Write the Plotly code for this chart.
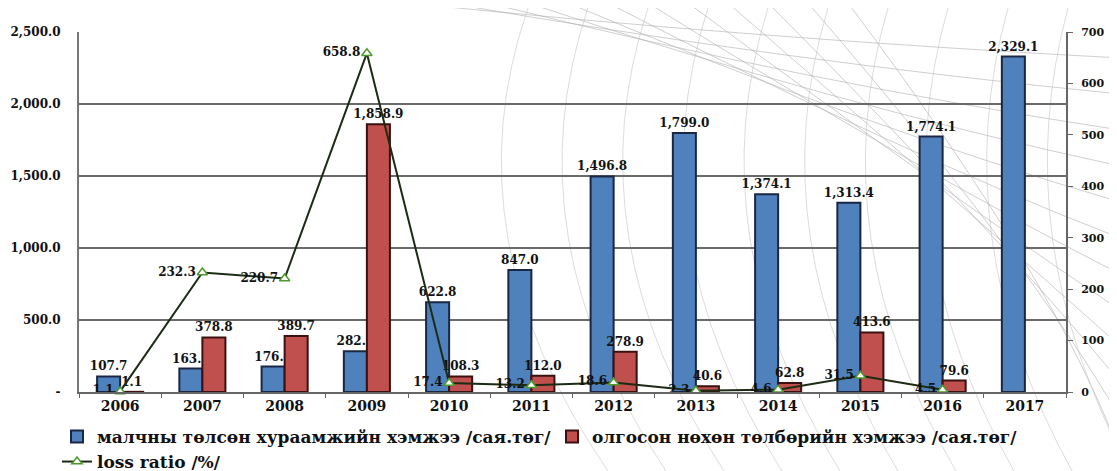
import plotly.graph_objects as go

years = ["2006", "2007", "2008", "2009", "2010", "2011", "2012", "2013", "2014", "2015", "2016", "2017"]
premium = [107.7, 163.1, 176.6, 282.2, 622.8, 847.0, 1496.8, 1799.0, 1374.1, 1313.4, 1774.1, 2329.1]
compensation = [1.1, 378.8, 389.7, 1858.9, 108.3, 112.0, 278.9, 40.6, 62.8, 413.6, 79.6, None]
loss_ratio = [1.1, 232.3, 220.7, 658.8, 17.4, 13.2, 18.6, 2.3, 4.6, 31.5, 4.5, None]

left_ticks = [0, 500, 1000, 1500, 2000, 2500]
left_ticktext = ["-", "500.0", "1,000.0", "1,500.0", "2,000.0", "2,500.0"]
right_ticks = [0, 100, 200, 300, 400, 500, 600, 700]

name_premium = "малчны төлсөн хураамжийн хэмжээ /сая.төг/"
name_comp = "олгосон нөхөн төлбөрийн хэмжээ /сая.төг/"
name_loss = "loss ratio /%/"

FONT = "DejaVu Serif"
# the page body adds an 8px offset, so the figure is 8px smaller than the window
W, H = 1109, 463
L, R, T, B = 71, 51, 24, 79
PW, PH = W - L - R, H - T - B


def px(x, y):
    """figure-pixel -> paper coordinates (decoration only)"""
    return (x - L) / PW, (H - B - y) / PH


fig = go.Figure()
fig.add_trace(go.Bar(
    x=years, y=premium, name=name_premium,
    marker=dict(color="#4F81BD", line=dict(color="#1A2744", width=2)),
    texttemplate="%{y:,.1f}", textposition="outside", constraintext="none",
    textfont=dict(family=FONT, size=12, color="#111", weight="bold"),
    cliponaxis=False, legend="legend", showlegend=True,
))
fig.add_trace(go.Bar(
    x=years, y=compensation, name=name_comp,
    marker=dict(color="#C0504D", line=dict(color="#3A1010", width=2)),
    texttemplate="%{y:,.1f}", textposition="outside", constraintext="none",
    textfont=dict(family=FONT, size=12, color="#111", weight="bold"),
    cliponaxis=False, legend="legend3", showlegend=True,
))
fig.add_trace(go.Scatter(
    x=years, y=loss_ratio, name=name_loss, yaxis="y2",
    mode="lines+markers+text",
    line=dict(color="#1C2B14", width=2),
    marker=dict(symbol="triangle-up", size=9, color="#FFFFFF",
                line=dict(color="#4E9A2E", width=1.5)),
    text=[f"{v:,.1f}" if v is not None else "" for v in loss_ratio],
    textposition="middle left",
    textfont=dict(family=FONT, size=12, color="#111", weight="bold"),
    cliponaxis=False, legend="legend2", showlegend=True,
))

# faint swirl watermark in the background (decoration)
shapes = []
for i in range(12):
    x0, y0 = px(400 + 40 * i, -5)
    cx, cy = px(740 + 28 * i, 30 + 22 * i)
    x1, y1 = px(1112, 50 + 36 * i)
    shapes.append(dict(type="path", xref="paper", yref="paper", layer="below",
                       path=f"M {x0},{y0} Q {cx},{cy} {x1},{y1}",
                       line=dict(color="rgba(175,175,175,0.6)", width=1)))
for i in range(10):
    x0, y0 = px(520 + 60 * i, 0)
    cx, cy = px(440 + 62 * i, 230)
    x1, y1 = px(600 + 58 * i, 463)
    shapes.append(dict(type="path", xref="paper", yref="paper", layer="below",
                       path=f"M {x0},{y0} Q {cx},{cy} {x1},{y1}",
                       line=dict(color="rgba(185,185,185,0.5)", width=1)))

legend_common = dict(
    orientation="h", xref="container", yref="container",
    xanchor="left", yanchor="middle",
    bgcolor="rgba(0,0,0,0)", itemwidth=30, visible=True,
    font=dict(family=FONT, size=17, color="#111", weight="bold"),
)

fig.update_layout(
    width=W, height=H,
    autosize=False,
    showlegend=True,
    margin=dict(l=L, r=R, t=T, b=B, autoexpand=False),
    paper_bgcolor="white", plot_bgcolor="rgba(0,0,0,0)",
    barmode="group", bargap=0.44, bargroupgap=0,
    font=dict(family=FONT, size=12, color="#111", weight="bold"),
    shapes=shapes,
    xaxis=dict(
        type="category", range=[-0.5, len(years) - 0.5],
        showline=True, linecolor="#666", linewidth=2,
        ticks="outside", tickson="boundaries", tickcolor="#666", ticklen=4,
        showgrid=False, automargin=False,
        tickfont=dict(family=FONT, size=14, weight="bold"),
    ),
    yaxis=dict(
        range=[0, 2500], tickvals=left_ticks, ticktext=left_ticktext,
        showgrid=True, gridcolor="#6a6a6a", gridwidth=2,
        showline=True, linecolor="#777", linewidth=2, automargin=False,
        ticks="", zeroline=False, ticklabelstandoff=14,
        tickfont=dict(family=FONT, size=12, weight="bold"),
    ),
    yaxis2=dict(
        range=[0, 700], tickvals=right_ticks, overlaying="y", side="right",
        showgrid=False, showline=True, linecolor="#666", linewidth=2,
        ticks="outside", tickcolor="#666", ticklen=5, zeroline=False,
        ticklabelstandoff=6, automargin=False,
        tickfont=dict(family=FONT, size=11, weight="bold"),
    ),
    legend=dict(legend_common, x=49 / W, y=1 - 429 / H),
    legend3=dict(legend_common, x=544 / W, y=1 - 429 / H),
    legend2=dict(legend_common, x=49 / W, y=1 - 454 / H),
)

fig.write_html("out.html")
